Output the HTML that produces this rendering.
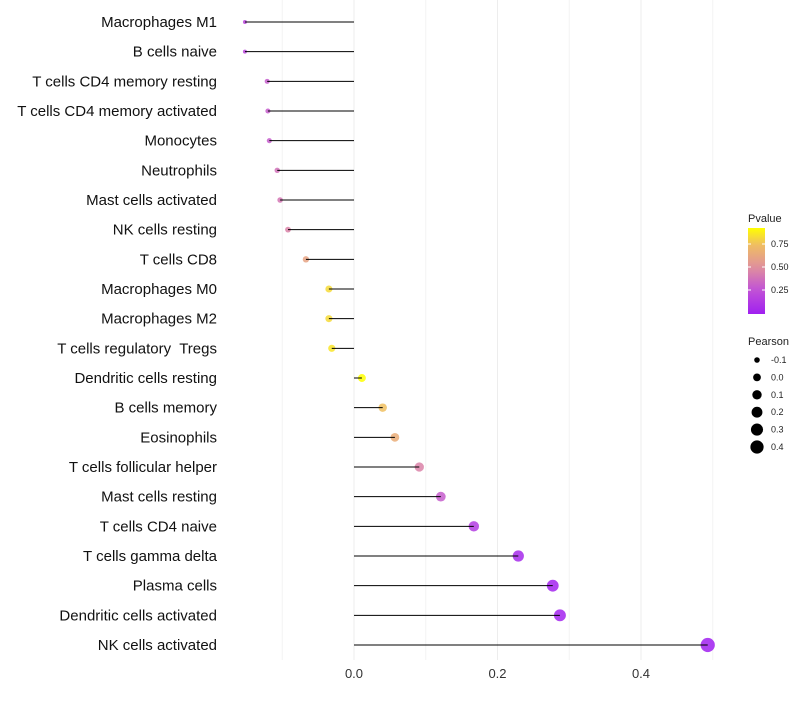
<!DOCTYPE html>
<html><head><meta charset="utf-8"><style>
body{margin:0;background:#fff;font-family:"Liberation Sans",sans-serif}
svg text{font-family:"Liberation Sans",sans-serif;white-space:pre}
</style></head><body>
<svg id="chart" width="800" height="700">
<g id="grid"></g><g id="marks"></g><g id="labels"></g><g id="legend"></g>
</svg>
<script>
const categories=["Macrophages M1","B cells naive","T cells CD4 memory resting","T cells CD4 memory activated","Monocytes","Neutrophils","Mast cells activated","NK cells resting","T cells CD8","Macrophages M0","Macrophages M2","T cells regulatory  Tregs","Dendritic cells resting","B cells memory","Eosinophils","T cells follicular helper","Mast cells resting","T cells CD4 naive","T cells gamma delta","Plasma cells","Dendritic cells activated","NK cells activated"];
const pearson=[-0.152,-0.152,-0.121,-0.120,-0.118,-0.107,-0.103,-0.092,-0.067,-0.035,-0.035,-0.031,0.011,0.040,0.057,0.091,0.121,0.167,0.229,0.277,0.287,0.493];
const pvalue=[0.2,0.2,0.3,0.3,0.3,0.38,0.4,0.45,0.6,0.82,0.82,0.85,0.92,0.75,0.65,0.45,0.3,0.15,0.05,0.02,0.02,0.0];
const xTicks=[0.0,0.2,0.4];
const minorTicks=[-0.1,0.1,0.3,0.5];
const NS="http://www.w3.org/2000/svg";
const x=v=>354+v*717.5;
const y=i=>22+i*(623/21);
const r=v=>Math.sqrt(Math.max(1,15+72*v));
const stops=[[0,[160,32,240]],[0.25,[192,80,216]],[0.5,[224,144,156]],[0.75,[240,192,96]],[0.92,[255,255,0]]];
function col(p){p=Math.max(0,Math.min(0.92,p));for(let k=0;k<stops.length-1;k++){const[a,ca]=stops[k],[b,cb]=stops[k+1];if(p<=b){const t=(p-a)/(b-a);return`rgb(${ca.map((c,j)=>Math.round(c+(cb[j]-c)*t)).join(",")})`;}}return"rgb(255,255,0)";}
function mk(tag,at,par){const e=document.createElementNS(NS,tag);for(const k in at)e.setAttribute(k,at[k]);document.getElementById(par).appendChild(e);return e;}
minorTicks.forEach(t=>{const e=mk("line",{x1:x(t),x2:x(t),y1:0,y2:660,stroke:"#f4f4f4","stroke-width":1},"grid");

});
xTicks.forEach(t=>{const e=mk("line",{x1:x(t),x2:x(t),y1:0,y2:660,stroke:"#ededed","stroke-width":1},"grid");


const l=mk("text",{x:x(t),y:678,"text-anchor":"middle","font-size":13,fill:"#333"},"labels");l.textContent=t.toFixed(1);

});
categories.forEach((c,i)=>{
const d=mk("circle",{cx:x(pearson[i]),cy:y(i),r:r(pearson[i]),fill:col(pvalue[i]),"fill-opacity":0.85},"marks");


const s=mk("line",{x1:x(0),x2:x(pearson[i]),y1:y(i),y2:y(i),stroke:"#000","stroke-width":1},"marks");


const t=mk("text",{x:217,y:y(i)+5,"text-anchor":"end","font-size":15,fill:"#111"},"labels");t.textContent=c;

});
const L="legend";
let e=mk("text",{x:748,y:222,"font-size":11,fill:"#222"},L);e.textContent="Pvalue";


const defs=mk("defs",{},L);const g=document.createElementNS(NS,"linearGradient");g.id="pg";g.setAttribute("x1",0);g.setAttribute("y1",1);g.setAttribute("x2",0);g.setAttribute("y2",0);defs.appendChild(g);
for(let k=0;k<=10;k++){const st=document.createElementNS(NS,"stop");st.setAttribute("offset",k/10);st.setAttribute("stop-color",col(0.92*k/10));g.appendChild(st);}
e=mk("rect",{x:748,y:228,width:17,height:86,fill:"url(#pg)"},L);


[[0.75,244],[0.50,267],[0.25,290]].forEach(([v,yy])=>{mk("line",{x1:748,x2:751,y1:yy,y2:yy,stroke:"#fff"},L);mk("line",{x1:762,x2:765,y1:yy,y2:yy,stroke:"#fff"},L);
const t=mk("text",{x:771,y:yy+3,"font-size":9,fill:"#222"},L);t.textContent=v.toFixed(2);

});
e=mk("text",{x:748,y:345,"font-size":11,fill:"#222"},L);e.textContent="Pearson";


const sizeVals=[-0.1,0.0,0.1,0.2,0.3,0.4];
sizeVals.forEach((v,k)=>{const yy=360+k*17.4;
const c=mk("circle",{cx:757,cy:yy,r:r(v),fill:"#000"},L);


const t=mk("text",{x:771,y:yy+3,"font-size":9,fill:"#222"},L);t.textContent=v.toFixed(1);

});
</script>
</body></html>
